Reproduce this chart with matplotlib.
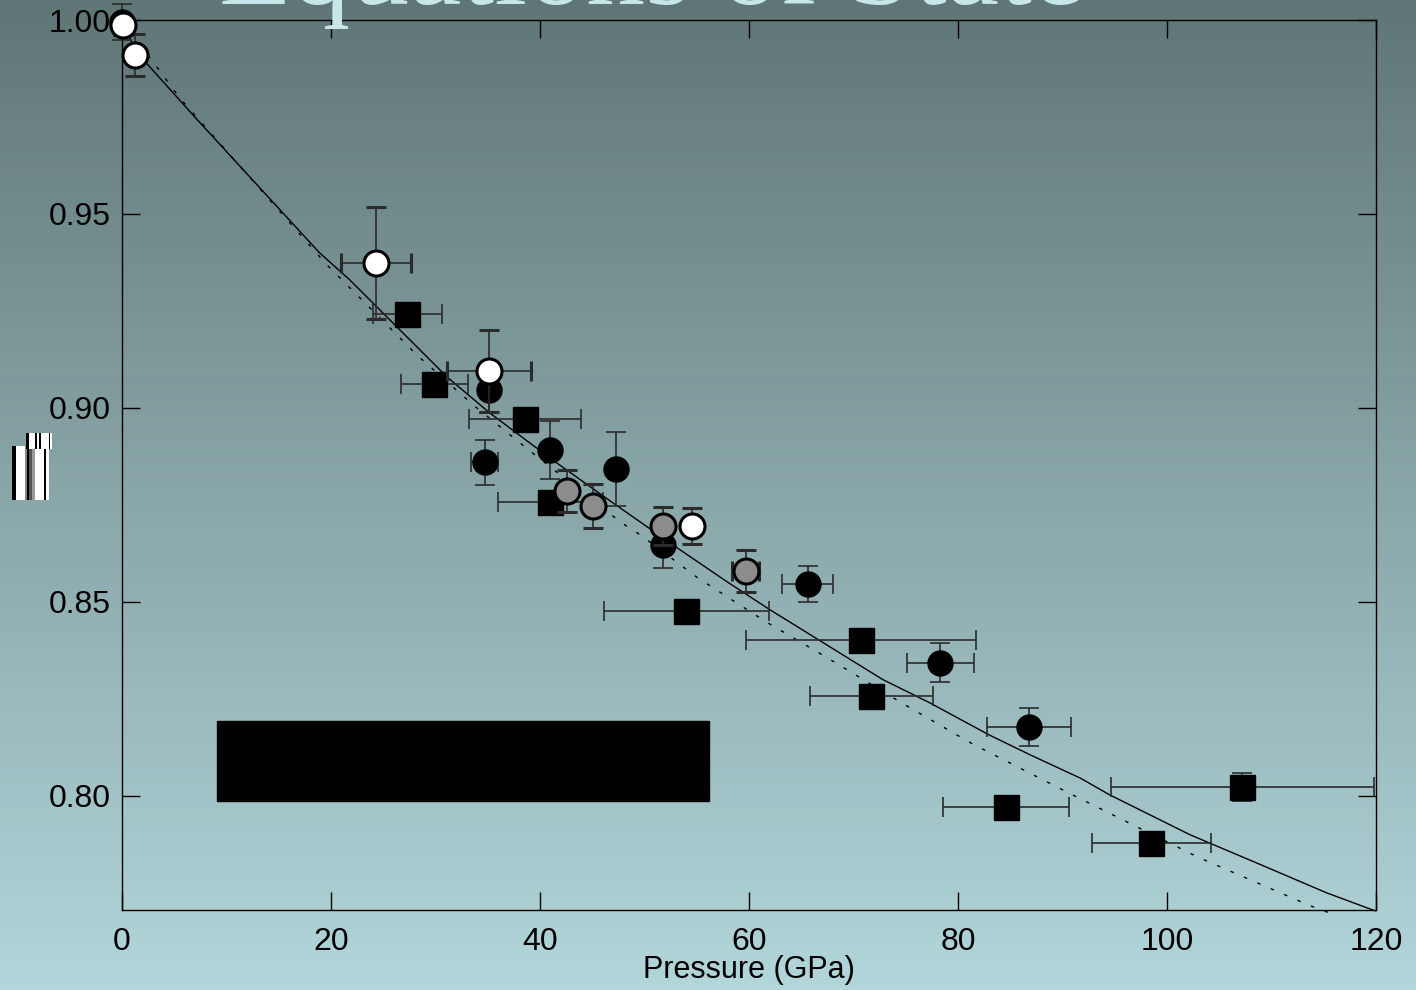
import matplotlib
matplotlib.use('Agg')
import matplotlib.pyplot as plt
import numpy as np
from matplotlib.patches import Rectangle

# ---- measured compression data: pressure (GPa), V/V0 and errors ----
sq_p    = [27.3, 29.9, 38.6, 41.0, 54.0, 70.7, 71.7, 84.6, 98.5, 107.2]
sq_v    = [0.9242, 0.9062, 0.8972, 0.8758, 0.8477, 0.8402, 0.8258, 0.7972, 0.7879, 0.8023]
sq_perr = [3.3, 3.2, 5.35, 5.0, 7.9, 11.0, 5.9, 6.0, 5.7, 12.6]
sq_verr = [0.0, 0.0, 0.0, 0.0, 0.0, 0.0, 0.0, 0.0, 0.0, 0.0035]

bc_p    = [0.0, 35.1, 34.7, 41.0, 47.3, 51.8, 65.6, 78.3, 86.8]
bc_v    = [0.9995, 0.9046, 0.8860, 0.8892, 0.8843, 0.8647, 0.8546, 0.8343, 0.8178]
bc_perr = [0.0, 0.0, 1.3, 0.0, 0.0, 0.0, 2.4, 3.2, 4.0]
bc_verr = [0.0046, 0.006, 0.0058, 0.0075, 0.0095, 0.006, 0.0047, 0.005, 0.0049]

gc_p    = [42.6, 45.1, 51.8, 59.7]
gc_v    = [0.8786, 0.8747, 0.8696, 0.8580]
gc_perr = [0.0, 0.0, 0.0, 1.3]
gc_verr = [0.0053, 0.0057, 0.005, 0.0055]

wc_p    = [0.1, 1.24, 24.3, 35.1, 54.5]
wc_v    = [0.9987, 0.9910, 0.9374, 0.9095, 0.8696]
wc_perr = [0.0, 0.0, 3.35, 4.0, 0.0]
wc_verr = [0.0025, 0.0054, 0.0145, 0.0105, 0.0047]

# ---- fitted equations of state ----
fit_p = [0.0, 1.3, 7.3, 18.9, 21.8, 28.5, 31.1, 35.2, 41.2, 47.0, 53.1, 57.9, 62.0,
         66.8, 72.8, 77.3, 83.0, 86.9, 91.7, 94.5, 102.2, 108.6, 115.3, 119.9]
fit_v = [1.0, 0.992, 0.974, 0.940, 0.933, 0.915, 0.908, 0.8987, 0.8866, 0.8755, 0.864,
         0.8552, 0.848, 0.840, 0.830, 0.824, 0.8157, 0.8106, 0.8046, 0.8003, 0.790,
         0.7827, 0.775, 0.7704]

alt_p = [0.0, 5.5, 19.6, 24.7, 28.2, 33.6, 39.0, 47.8, 49.6, 55.0, 60.4, 62.0, 67.5,
         74.6, 79.9, 81.4, 90.5, 102.9, 113.7, 115.4]
alt_v = [1.0, 0.980, 0.9369, 0.9232, 0.9137, 0.9008, 0.889, 0.8704, 0.8673, 0.8564,
         0.847, 0.8443, 0.8356, 0.824, 0.8157, 0.8134, 0.8009, 0.7843, 0.7717, 0.770]

W, H = 1416, 990

def fx(px):
    return px / W

def fy(py):
    return 1 - py / H

fig = plt.figure(figsize=(14.16, 9.90), dpi=100)

# slate-to-cyan backdrop
bg = fig.add_axes([0, 0, 1, 1], zorder=-10)
top = np.array([96, 118, 118]) / 255
bot = np.array([178, 214, 218]) / 255
t = np.linspace(0, 1, 256)[:, None, None]
grad = top * (1 - t) + bot * t
bg.imshow(np.repeat(grad, 2, axis=1), aspect='auto', extent=[0, 1, 0, 1])
bg.set_axis_off()

fig.text(fx(652), fy(4), 'Equations of State', family='Liberation Serif',
         fontsize=85, color='#c6e6ea', ha='center', va='baseline')

ax = fig.add_axes([fx(122), fy(910), fx(1376) - fx(122), fy(20) - fy(910)])
ax.set_facecolor('none')

ax.plot(fit_p, fit_v, color='black', lw=1.0, zorder=2)
ax.plot(alt_p, alt_v, color='black', lw=1.0, linestyle=(0, (2.5, 8)), zorder=2)

ekw = dict(ecolor='#2b2b2b', elinewidth=1.2, capsize=7, capthick=1.2, linestyle='none')

ax.errorbar(sq_p, sq_v, xerr=sq_perr, yerr=sq_verr, marker='s', ms=18,
            mfc='black', mec='black', zorder=3, **ekw)
ax.errorbar(bc_p, bc_v, xerr=bc_perr, yerr=bc_verr, marker='o', ms=18,
            mfc='black', mec='black', zorder=4, **ekw)
ax.errorbar(gc_p, gc_v, xerr=gc_perr, yerr=gc_verr, marker='o', ms=18,
            mfc='#8c8c8c', mec='black', mew=2.2, zorder=5, **ekw)
ax.errorbar(wc_p, wc_v, xerr=wc_perr, yerr=wc_verr, marker='o', ms=18,
            mfc='white', mec='black', mew=2.2, zorder=6, **ekw)

ax.set_xlim(0, 120)
ax.set_ylim(0.7706, 1.0)
ax.set_xticks(np.arange(0, 121, 20))
ax.set_yticks([0.80, 0.85, 0.90, 0.95, 1.00])
ax.set_yticklabels(['0.80', '0.85', '0.90', '0.95', '1.00'])
ax.tick_params(direction='in', length=13, width=1, top=True, right=True,
               labelsize=23)
ax.tick_params(axis='x', pad=12)
ax.tick_params(axis='y', pad=8)
for lab in ax.get_xticklabels() + ax.get_yticklabels():
    lab.set_family('Liberation Sans')
for sp in ax.spines.values():
    sp.set_linewidth(1.0)
ax.set_xlabel('Pressure (GPa)', family='Liberation Sans', fontsize=22)
ax.xaxis.set_label_coords(0.5, -0.051)
for a in ax.lines + ax.collections:
    a.set_clip_on(False)

# solid black legend block
fig.add_artist(Rectangle((fx(217), fy(801)), fx(709) - fx(217), fy(721) - fy(801),
                         transform=fig.transFigure, color='black', zorder=20))

# striped y-label block
def stripes(x0, y0, y1, parts):
    x = x0
    for w, c in parts:
        fig.add_artist(Rectangle((fx(x), fy(y1)), fx(w), fy(y0) - fy(y1),
                                 transform=fig.transFigure, color=c, lw=0, zorder=20))
        x += w

stripes(12, 446, 500, [(4, 'black'), (9.3, 'white'), (1.3, '#888888'), (2.7, 'black'),
                       (2.7, '#555555'), (3.3, '#999999'), (8.7, 'white'), (2, 'black'),
                       (3.4, 'white')])
stripes(26, 433, 449, [(2.7, 'black'), (6.6, 'white'), (1.3, 'black'), (2, 'white'),
                       (2.7, 'black'), (7.3, 'white'), (1.3, 'black'), (1.7, 'white')])

fig.savefig('out.png', dpi=100)
